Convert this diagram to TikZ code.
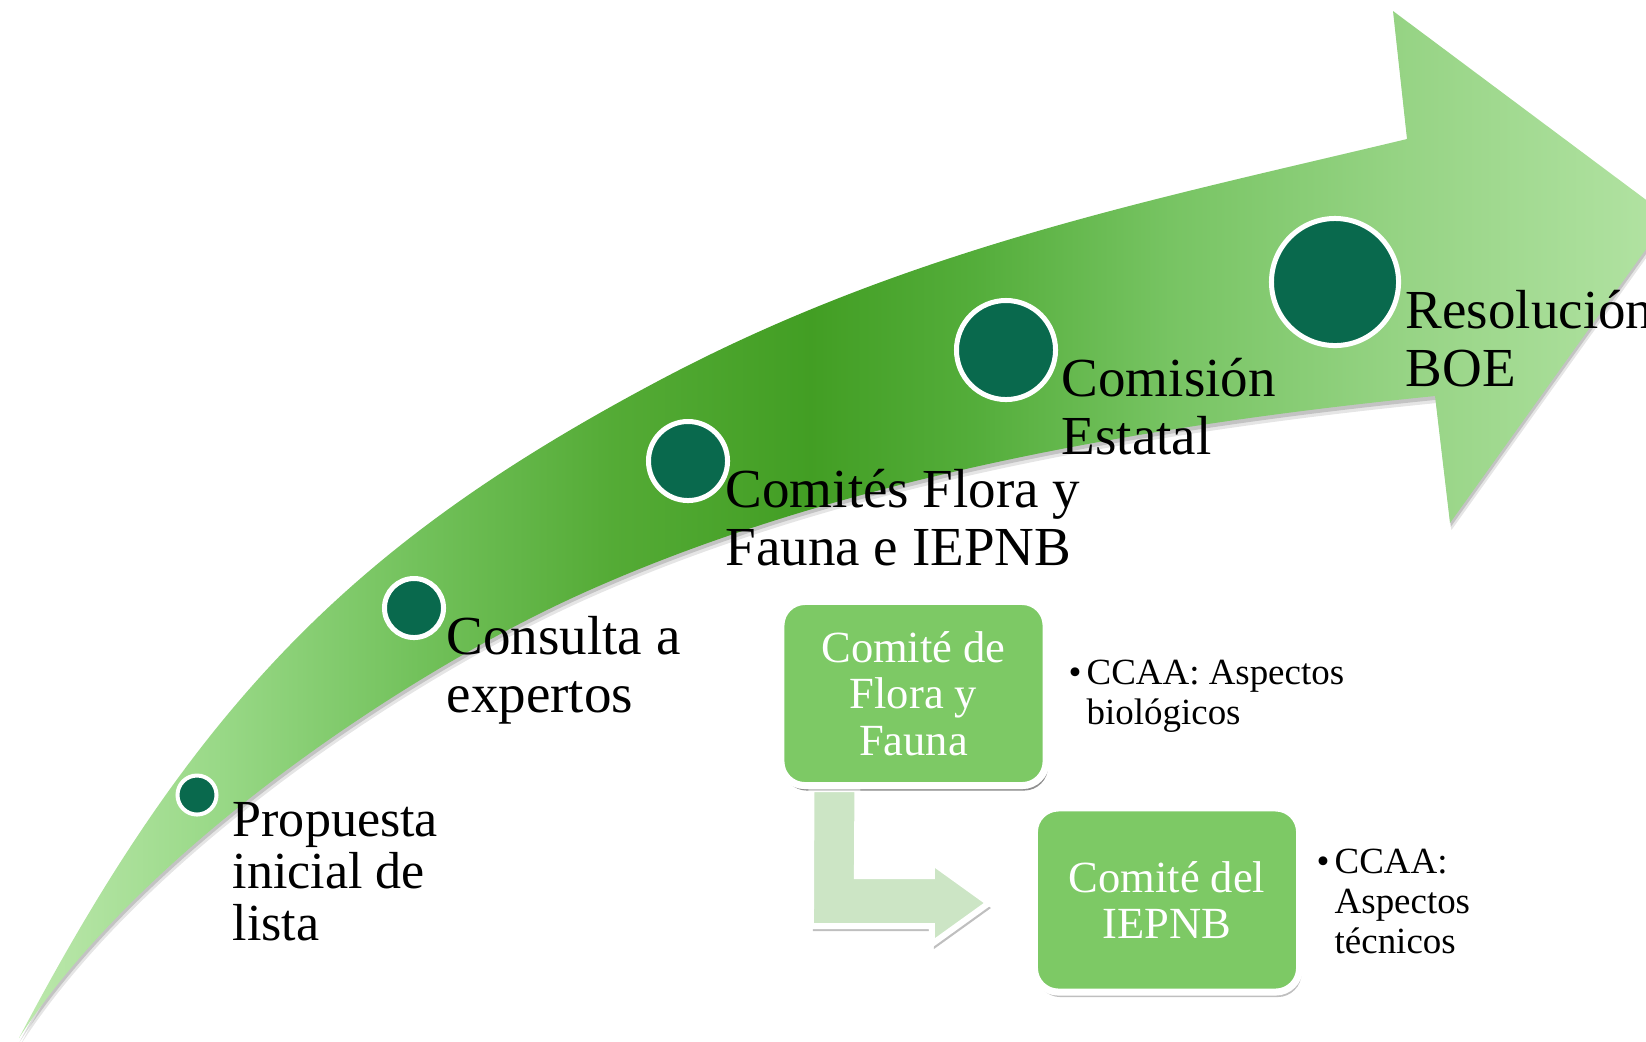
\documentclass[tikz,border=0pt]{standalone}
\usepackage{fontspec}
\setmainfont{Liberation Serif}
\usetikzlibrary{shadows,calc}
\definecolor{dkgreen}{RGB}{9,105,77}
\definecolor{boxgreen}{RGB}{125,201,101}
\definecolor{palegreen}{RGB}{204,229,197}
\pgfdeclarehorizontalshading{arrowsh}{100bp}{rgb(0bp)=(0.74,0.91,0.68); rgb(25bp)=(0.74,0.91,0.68); rgb(31bp)=(0.60,0.85,0.53); rgb(37bp)=(0.45,0.76,0.36); rgb(43bp)=(0.33,0.67,0.21); rgb(49bp)=(0.26,0.62,0.14); rgb(54bp)=(0.33,0.68,0.23); rgb(60bp)=(0.47,0.77,0.39); rgb(67bp)=(0.59,0.83,0.52); rgb(75bp)=(0.70,0.89,0.64); rgb(100bp)=(0.70,0.89,0.64)}
\newcommand\bigArrowShape[1]{%
  \path[#1] (19,1038) .. controls (199,696) and (360,539) .. (660,380)
   .. controls (910,247.5) and (1157,199) .. (1407,139)
   -- (1393,11) -- (1669,217) -- (1450,523) -- (1435,396)
   .. controls (1135,426) and (833,480.5) .. (583,593)
   .. controls (403,674) and (139,852) .. (19,1038) -- cycle;}
\tikzset{
  dot/.style={circle, fill=dkgreen, draw=white, line width=0.05cm, inner sep=0pt},
  lbl/.style={anchor=base west, inner sep=0pt, font=\fontsize{15.65pt}{16.5pt}\selectfont},
  bul/.style={anchor=base west, inner sep=0pt, font=\fontsize{10.5pt}{11.5pt}\selectfont},
  cbox/.style={rectangle, rounded corners=0.24cm, fill=boxgreen, draw=white, line width=0.07cm,
    minimum width=2.65cm, minimum height=1.84cm, inner sep=0pt, text=white, align=center,
    font=\fontsize{12.66pt}{13.2pt}\selectfont,
    drop shadow={shadow xshift=0.02cm, shadow yshift=-0.05cm, opacity=0.25, fill=black}},
}
\begin{document}
\begin{tikzpicture}[x=0.01cm, y=-0.01cm]
\useasboundingbox (0,0) rectangle (1646,1041);
\clip (0,0) rectangle (1646,1041);
% main arrow with soft shadow
\bigArrowShape{fill=black, opacity=0.10, yshift=-2pt, xshift=0.4pt}
\bigArrowShape{fill=black, opacity=0.15, yshift=-1.1pt, xshift=0.2pt}
\bigArrowShape{shade, shading=arrowsh}
% circles
\node[dot, line width=0.04cm, minimum size=0.39cm] (c1) at (197,795) {};
\node[dot, minimum size=0.59cm] (c2) at (414,608) {};
\node[dot, minimum size=0.79cm] (c3) at (688,461) {};
\node[dot, minimum size=0.99cm] (c4) at (1006,350) {};
\node[dot, minimum size=1.27cm] (c5) at (1335,282) {};
% labels
\node[lbl, font=\fontsize{14.8pt}{14.8pt}\selectfont] (t1) at (232,836) {\vtop{\hbox{Propuesta}\hbox{inicial de}\hbox{lista}}};
\node[lbl] (t2) at (446,654) {\vtop{\hbox{Consulta a}\hbox{expertos}}};
\node[lbl] (t3) at (725,507) {\vtop{\hbox{Comités Flora y}\hbox{Fauna e IEPNB}}};
\node[lbl] (t4) at (1061,396) {\vtop{\hbox{Comisión}\hbox{Estatal}}};
\node[lbl] (t5) at (1405,328) {\vtop{\hbox{Resolución}\hbox{BOE}}};
% boxes
\node[cbox] (box1) at (913.5,693.5) {Comité de\\Flora y\\Fauna};
\node[cbox] (box2) at (1167,900) {Comité del\\IEPNB};
% bent arrow connector from box1 to box2
\coordinate (A) at ([shift={(34,0)}]box1.south west);
\coordinate (T) at ([shift={(-42,3)}]box2.west);
\draw[fill=palegreen, draw=white, line width=0.06cm, line join=miter,
  drop shadow={shadow xshift=0.02cm, shadow yshift=-0.05cm, opacity=0.25, fill=black}]
  (A) -- ++(46,0) -- ($(T)+(-132,-27)$) -- ($(T)+(-57,-27)$) -- ($(T)+(-57,-41)$)
  -- (T) -- ($(T)+(-57,41)$) -- ($(T)+(-57,23)$) -- ($(T)+(-178,23)$) -- cycle;
\node[cbox, drop shadow={opacity=0}] at (box1) {Comité de\\Flora y\\Fauna};
% bullets
\node[bul] (b1) at (1086,684) {\vtop{\hbox{\llap{•\kern1.5pt}CCAA: Aspectos}\hbox{biológicos}}};
\node[bul] (b2) at (1334,873) {\vtop{\hbox{\llap{•\kern1.5pt}CCAA:}\hbox{Aspectos}\hbox{técnicos}}};
\end{tikzpicture}
\end{document}
